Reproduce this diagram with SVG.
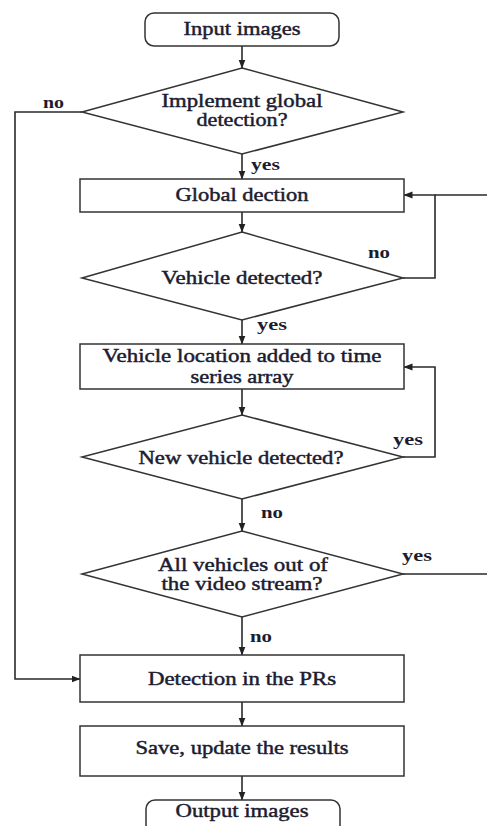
<svg xmlns="http://www.w3.org/2000/svg" width="487" height="826" viewBox="0 0 487 826">
  <style>
    .shape { fill: #ffffff; stroke: #333333; stroke-width: 1.5; }
    .line { fill: none; stroke: #2a2a2a; stroke-width: 1.6; }
    .label { font-family: "Liberation Serif", "Times New Roman", serif; font-size: 18px; fill: #1c1c30; stroke: #1c1c30; stroke-width: 0.45; text-anchor: middle; }
    .tag { font-family: "Liberation Serif", "Times New Roman", serif; font-size: 17px; fill: #1c1c30; font-weight: bold; }
  </style>
  <defs>
    <marker id="arrow" markerWidth="9" markerHeight="8" refX="8.5" refY="4" orient="auto" markerUnits="userSpaceOnUse">
      <path d="M0,0.5 L9,4 L0,7.5 Z" fill="#222222"/>
    </marker>
  </defs>
  <rect width="487" height="826" fill="#ffffff"/>

  <!-- connectors -->
  <g id="connectors">
    <line class="line" x1="242" y1="46" x2="242" y2="68" marker-end="url(#arrow)"/>
    <line class="line" x1="242" y1="154" x2="242" y2="179" marker-end="url(#arrow)"/>
    <line class="line" x1="242" y1="212" x2="242" y2="232" marker-end="url(#arrow)"/>
    <line class="line" x1="242" y1="320" x2="242" y2="344" marker-end="url(#arrow)"/>
    <line class="line" x1="242" y1="389" x2="242" y2="415" marker-end="url(#arrow)"/>
    <line class="line" x1="242" y1="499" x2="242" y2="531" marker-end="url(#arrow)"/>
    <line class="line" x1="242" y1="617" x2="242" y2="655" marker-end="url(#arrow)"/>
    <line class="line" x1="242" y1="702" x2="242" y2="726" marker-end="url(#arrow)"/>
    <line class="line" x1="242" y1="776" x2="242" y2="800" marker-end="url(#arrow)"/>
    <!-- skip global detection -->
    <polyline class="line" points="82,112 15,112 15,679 80,679" marker-end="url(#arrow)"/>
    <!-- no vehicle: back to global detection -->
    <polyline class="line" points="403,278 435,278 435,195 404,195" marker-end="url(#arrow)"/>
    <!-- new vehicle: back to time series -->
    <polyline class="line" points="403,457 435,457 435,367 404,367" marker-end="url(#arrow)"/>
    <!-- vehicles still in stream: loop back at the far right -->
    <polyline class="line" points="403,574 490,574 490,195 435,195"/>
  </g>

  <g id="n-input">
    <rect class="shape" x="145" y="13" width="194" height="33" rx="9"/>
    <text class="label" x="242" y="35" textLength="117" lengthAdjust="spacingAndGlyphs">Input images</text>
  </g>

  <g id="n-implement">
    <polygon class="shape" points="242,68 403,112 242,154 82,112"/>
    <text class="label" x="242" y="107" textLength="161" lengthAdjust="spacingAndGlyphs">Implement global</text>
    <text class="label" x="242" y="126" textLength="91" lengthAdjust="spacingAndGlyphs">detection?</text>
  </g>

  <g id="n-global">
    <rect class="shape" x="80" y="179" width="324" height="33"/>
    <text class="label" x="242" y="201" textLength="133" lengthAdjust="spacingAndGlyphs">Global dection</text>
  </g>

  <g id="n-detected">
    <polygon class="shape" points="242,232 403,278 242,320 82,278"/>
    <text class="label" x="242" y="284" textLength="161" lengthAdjust="spacingAndGlyphs">Vehicle detected?</text>
  </g>

  <g id="n-location">
    <rect class="shape" x="80" y="344" width="324" height="45"/>
    <text class="label" x="242" y="362" textLength="279" lengthAdjust="spacingAndGlyphs">Vehicle location added to time</text>
    <text class="label" x="242" y="383" textLength="103" lengthAdjust="spacingAndGlyphs">series array</text>
  </g>

  <g id="n-new">
    <polygon class="shape" points="242,415 403,457 242,499 82,457"/>
    <text class="label" x="241" y="464" textLength="205" lengthAdjust="spacingAndGlyphs">New vehicle detected?</text>
  </g>

  <g id="n-allout">
    <polygon class="shape" points="242,531 403,574 242,617 82,574"/>
    <text class="label" x="243" y="571" textLength="170" lengthAdjust="spacingAndGlyphs">All vehicles out of</text>
    <text class="label" x="242" y="590" textLength="161" lengthAdjust="spacingAndGlyphs">the video stream?</text>
  </g>

  <g id="n-prs">
    <rect class="shape" x="80" y="655" width="324" height="47"/>
    <text class="label" x="242" y="685" textLength="188" lengthAdjust="spacingAndGlyphs">Detection in the PRs</text>
  </g>

  <g id="n-save">
    <rect class="shape" x="80" y="726" width="324" height="50"/>
    <text class="label" x="242" y="754" textLength="213" lengthAdjust="spacingAndGlyphs">Save, update the results</text>
  </g>

  <g id="n-output">
    <rect class="shape" x="146" y="800" width="194" height="40" rx="9"/>
    <text class="label" x="242" y="817" textLength="133" lengthAdjust="spacingAndGlyphs">Output images</text>
  </g>

  <!-- branch labels -->
  <g id="branch-labels">
    <text class="tag" x="43" y="108" textLength="21" lengthAdjust="spacingAndGlyphs">no</text>
    <text class="tag" x="251" y="170" textLength="29" lengthAdjust="spacingAndGlyphs">yes</text>
    <text class="tag" x="368" y="258" textLength="22" lengthAdjust="spacingAndGlyphs">no</text>
    <text class="tag" x="257" y="330" textLength="30" lengthAdjust="spacingAndGlyphs">yes</text>
    <text class="tag" x="393" y="445" textLength="30" lengthAdjust="spacingAndGlyphs">yes</text>
    <text class="tag" x="261" y="518" textLength="22" lengthAdjust="spacingAndGlyphs">no</text>
    <text class="tag" x="402" y="561" textLength="30" lengthAdjust="spacingAndGlyphs">yes</text>
    <text class="tag" x="250" y="642" textLength="22" lengthAdjust="spacingAndGlyphs">no</text>
  </g>
</svg>
